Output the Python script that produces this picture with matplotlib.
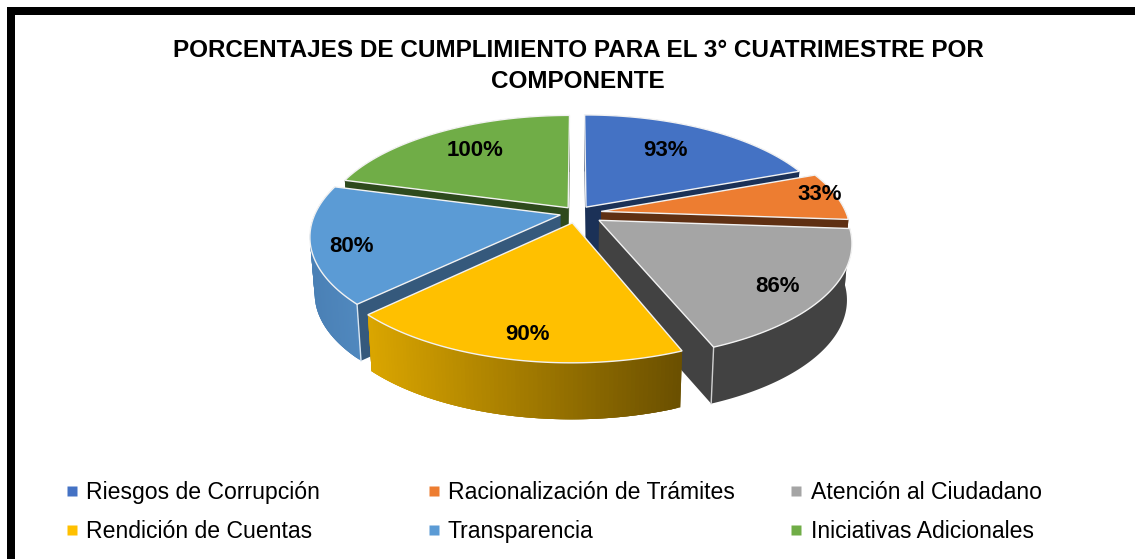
import numpy as np
import matplotlib
matplotlib.use('Agg')
import matplotlib.pyplot as plt
from matplotlib.patches import Polygon, Rectangle

# Datos del grafico
componentes = ['Riesgos de Corrupción', 'Racionalización de Trámites', 'Atención al Ciudadano',
               'Rendición de Cuentas', 'Transparencia', 'Iniciativas Adicionales']
porcentajes = [93, 33, 86, 90, 80, 100]
titulo = 'PORCENTAJES DE CUMPLIMIENTO PARA EL 3° CUATRIMESTRE POR\nCOMPONENTE'

# Estilos
colores = ['#4472C4', '#ED7D31', '#A5A5A5', '#FFC000', '#5B9BD5', '#70AD47']
caras = ['#1B3157', '#5F3013', '#424242', '#6B5000', '#35597C', '#2E4A1D']
lado_ini = ['#1B3157', '#5F3013', '#424242', '#DBA600', '#4A80B5', '#2E4A1D']
lado_fin = ['#1B3157', '#5F3013', '#424242', '#6B5000', '#5088BE', '#2E4A1D']
explode = [0.065, 0.10, 0.11, 0.09, 0.07, 0.06]
etiquetas_pos = [(666, 150), (820, 194), (778, 287), (527, 334), (351, 246), (475, 151)]

CX, CY, R, K, P, PROF = 577, 213, 245, 0.452, 0.18, 56.5
FUENTE = 'Liberation Sans'


def proyectar(u, v):
    w = 1 - P * v
    return CX + R * u / w, CY + R * K * v / w


def abajo(pts):
    pts = np.asarray(pts, dtype=float)
    out = pts.copy()
    out[:, 0] = CX + (pts[:, 0] - CX) * 0.982
    out[:, 1] = pts[:, 1] + PROF
    return out


def mezcla(c1, c2, t):
    a = np.array(matplotlib.colors.to_rgb(c1))
    b = np.array(matplotlib.colors.to_rgb(c2))
    return tuple(a + (b - a) * t)


fig = plt.figure(figsize=(11.35, 5.59), dpi=100)
ax = fig.add_axes([0, 0, 1, 1])
ax.set_xlim(0, 1135)
ax.set_ylim(559, 0)
ax.axis('off')

# Marco negro
ax.add_patch(Rectangle((7, 7), 1128, 7.5, color='black', lw=0))
ax.add_patch(Rectangle((7, 7), 8, 552, color='black', lw=0))

total = sum(porcentajes)
limites = np.concatenate([[0], np.cumsum(porcentajes)]) / total * 2 * np.pi

# Orden de pintado: de atras hacia adelante
orden = [0, 5, 1, 4, 2, 3]
for i in orden:
    a0, a1 = limites[i], limites[i + 1]
    med = (a0 + a1) / 2
    du, dv = explode[i] * np.sin(med), -explode[i] * np.cos(med)
    tt = np.linspace(a0, a1, 80)
    arco = np.array([proyectar(np.sin(t) + du, -np.cos(t) + dv) for t in tt])
    apice = np.array(proyectar(du, dv))
    sup = np.vstack([apice, arco])

    # caras radiales
    for borde in (arco[0], arco[-1]):
        q = np.array([apice, borde])
        q = np.vstack([q, abajo(q)[::-1]])
        ax.add_patch(Polygon(q, closed=True, fc=caras[i], ec='none', zorder=2))

    # lado exterior, con degradado si hace falta
    arco_b = abajo(arco)
    if lado_ini[i] == lado_fin[i]:
        ax.add_patch(Polygon(np.vstack([arco, arco_b[::-1]]), closed=True, fc=lado_ini[i], ec='none', zorder=2))
    else:
        xmin, xmax = arco[:, 0].min(), arco[:, 0].max()
        for j in range(len(arco) - 1):
            fin = min(j + 3, len(arco) - 1)
            q = np.vstack([arco[j:fin + 1], arco_b[j:fin + 1][::-1]])
            col = mezcla(lado_ini[i], lado_fin[i], (arco[j, 0] - xmin) / (xmax - xmin))
            ax.add_patch(Polygon(q, closed=True, fc=col, ec='none', zorder=2))

    # aristas verticales claras en las esquinas de adelante
    if i == 2:
        e = np.vstack([arco[-1], arco_b[-1]])
        ax.plot(e[:, 0], e[:, 1], color='#D0D0D0', lw=1.0, zorder=2)
    if i == 4:
        e = np.vstack([arco[0], arco_b[0]])
        ax.plot(e[:, 0], e[:, 1], color='#D8E6F2', lw=1.0, zorder=2)

    ax.add_patch(Polygon(sup, closed=True, fc=colores[i], ec='#F2F2F2', lw=1.0, joinstyle='miter', zorder=2))

    x, y = etiquetas_pos[i]
    ax.text(x, y, f'{porcentajes[i]}%', ha='center', va='center', fontsize=16,
            fontweight='bold', family=FUENTE, color='black', zorder=5)

ax.text(578, 66, titulo, ha='center', va='center', fontsize=17.5, fontweight='bold',
        family=FUENTE, linespacing=1.4, color='black')

# Leyenda
filas = [491, 530]
col_marca = [72, 434, 796]
col_texto = [86, 448, 811]
for i, nombre in enumerate(componentes):
    f, c = i // 3, i % 3
    ax.plot(col_marca[c], filas[f], marker='s', ms=7, color=colores[i], mec='none', ls='none')
    ax.text(col_texto[c], filas[f] + 8, nombre, ha='left', va='baseline', fontsize=16.6,
            family=FUENTE, color='black')

fig.savefig('out.png', dpi=100)
